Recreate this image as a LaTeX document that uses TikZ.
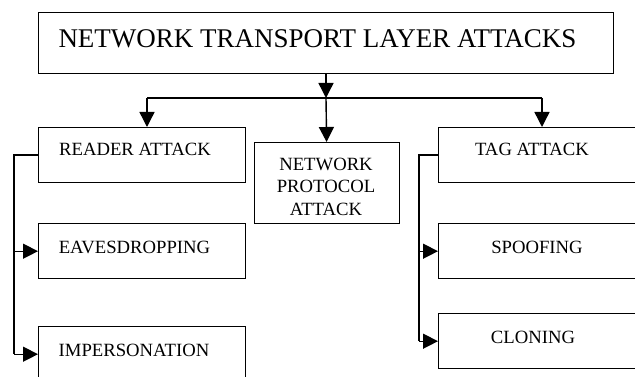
\documentclass[tikz,border=0pt]{standalone}
\usepackage{fontspec}
\setmainfont{Liberation Serif}
\usetikzlibrary{arrows.meta,positioning}

\begin{document}
\begin{tikzpicture}[x=1pt,y=-1pt,line width=1.4pt,
    box node/.style={rectangle,draw,line width=1.4pt,inner sep=0pt,anchor=north west,
                     minimum width=207pt,minimum height=55pt},
    txt node/.style={font=\fontsize{18.7}{22.5}\selectfont,inner sep=0pt,anchor=base},
    arr/.style={-{Triangle[length=15pt,width=15pt]}}
                      ]
   \clip (0,0) rectangle (635,377);
   % boxes
   \node[box node,minimum width=575pt,minimum height=61pt] (nta) at (38,12) {};
   \node[box node] (reader) at (38,127) {};
   \node[box node,minimum width=145pt,minimum height=81pt] (netproto) at (254,142) {};
   \node[box node] (tag) at (438,127) {};
   \node[box node] (eaves) at (38,223) {};
   \node[box node] (imper) at (38,326) {};
   \node[box node] (spoof) at (438,223) {};
   \node[box node] (clone) at (438,313) {};
   % texts
   \node[txt node,font=\fontsize{27}{30}\selectfont] (nta-t) at (317.5,48) {NETWORK TRANSPORT LAYER ATTACKS};
   \node[txt node] (reader-t) at (135,156) {READER ATTACK};
   \node[txt node,anchor=center,align=center] (netproto-t) at (326,186.5) {NETWORK\\PROTOCOL\\ATTACK};
   \node[txt node] (tag-t) at (532,156) {TAG ATTACK};
   \node[txt node] (eaves-t) at (134.5,253) {EAVESDROPPING};
   \node[txt node] (imper-t) at (134,356) {IMPERSONATION};
   \node[txt node] (spoof-t) at (537,253) {SPOOFING};
   \node[txt node] (clone-t) at (533,343) {CLONING};
   % connectors
   \coordinate (split) at (326,98);
   \coordinate (lsplit) at (147,98);
   \coordinate (rsplit) at (542,98);
   \coordinate (lbus) at (14,0);
   \coordinate (rbus) at (419,0);
   \draw[arr] (nta.south -| split) -- (split);
   \draw (lsplit) -- (rsplit);
   \draw[arr] (lsplit) -- (lsplit |- reader.north);
   \draw[arr] (split) -- (netproto);
   \draw[arr] (rsplit) -- (rsplit |- tag.north);
   \draw (reader.west) -- (reader.west -| lbus) -- (lbus |- imper.west);
   \draw[arr] (lbus |- eaves.west) -- (eaves.west);
   \draw[arr] (lbus |- imper.west) -- (imper.west);
   \draw (tag.west) -- (tag.west -| rbus) -- (rbus |- clone.west);
   \draw[arr] (rbus |- spoof.west) -- (spoof.west);
   \draw[arr] (rbus |- clone.west) -- (clone.west);
\end{tikzpicture}
\end{document}
